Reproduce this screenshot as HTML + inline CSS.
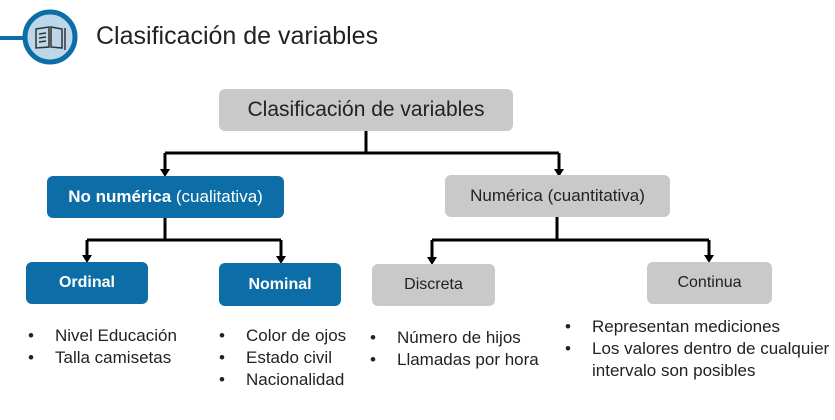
<!DOCTYPE html>
<html><head><meta charset="utf-8"><style>
body{margin:0;width:835px;height:420px;background:#fff;position:relative;overflow:hidden;font-family:"Liberation Sans",sans-serif;color:#222}
.b{position:absolute;border-radius:6px;display:flex;align-items:center;justify-content:center;white-space:nowrap}
.g{background:#c9c9c9;color:#222}
.u{background:#0d6ea7;color:#fff}
.t{position:absolute;font-size:17px;line-height:22px;white-space:nowrap}
.t span{display:inline-block;width:27px}
</style></head><body>
<svg width="835" height="420" style="position:absolute;left:0;top:0">
<line x1="0" y1="38" x2="26" y2="38" stroke="#0d6ea7" stroke-width="4"/>
<circle cx="50" cy="37" r="25" fill="#bcd6ea" stroke="#0d6ea7" stroke-width="5"/>
<g stroke="#333" stroke-width="1.5" fill="none">
<path d="M36 29 L49 27 L49 47 L36 48 Z"/><path d="M51 27 L62 29 L62 48 L51 47 Z"/>
<line x1="39" y1="34" x2="46" y2="33"/><line x1="39" y1="38" x2="46" y2="37"/><line x1="39" y1="42" x2="46" y2="41"/>
<line x1="65" y1="28" x2="65" y2="50"/>
</g>
<g stroke="#000" stroke-width="3" fill="none">
<path d="M366 131 V153 M165 153 H559 M165 153 V170 M559 153 V170"/>
<path d="M165 218 V240 M87 240 H281 M87 240 V256 M281 240 V257"/>
<path d="M557 217 V240 M432 240 H709 M432 240 V258 M709 240 V256"/>
</g>
<g fill="#000">
<path d="M160 169 L170 169 L165 177 Z"/><path d="M554 169 L564 169 L559 177 Z"/>
<path d="M82 255 L92 255 L87 263 Z"/><path d="M276 256 L286 256 L281 264 Z"/>
<path d="M427 257 L437 257 L432 265 Z"/><path d="M704 255 L714 255 L709 263 Z"/>
</g>
</svg>
<div style="position:absolute;left:96px;top:22px;font-size:25px;color:#222">Clasificación de variables</div>
<div class="b g" style="left:219px;top:89px;width:294px;height:42px;font-size:21px">Clasificación de variables</div>
<div class="b u" style="left:47px;top:176px;width:237px;height:42px;font-size:17px"><b>No numérica</b>&nbsp;(cualitativa)</div>
<div class="b g" style="left:445px;top:175px;width:225px;height:42px;font-size:17px">Numérica (cuantitativa)</div>
<div class="b u" style="left:26px;top:262px;width:122px;height:42px;font-size:16px;font-weight:bold">Ordinal</div>
<div class="b u" style="left:219px;top:263px;width:122px;height:43px;font-size:16px;font-weight:bold">Nominal</div>
<div class="b g" style="left:372px;top:264px;width:123px;height:42px;font-size:16px">Discreta</div>
<div class="b g" style="left:647px;top:262px;width:125px;height:42px;font-size:16px">Continua</div>
<div class="t" style="left:28px;top:325px"><span>•</span>Nivel Educación<br><span>•</span>Talla camisetas</div>
<div class="t" style="left:219px;top:325px"><span>•</span>Color de ojos<br><span>•</span>Estado civil<br><span>•</span>Nacionalidad</div>
<div class="t" style="left:370px;top:327px"><span>•</span>Número de hijos<br><span>•</span>Llamadas por hora</div>
<div class="t" style="left:565px;top:316px"><span>•</span>Representan mediciones<br><span>•</span>Los valores dentro de cualquier<br><span></span>intervalo son posibles</div>
</body></html>
